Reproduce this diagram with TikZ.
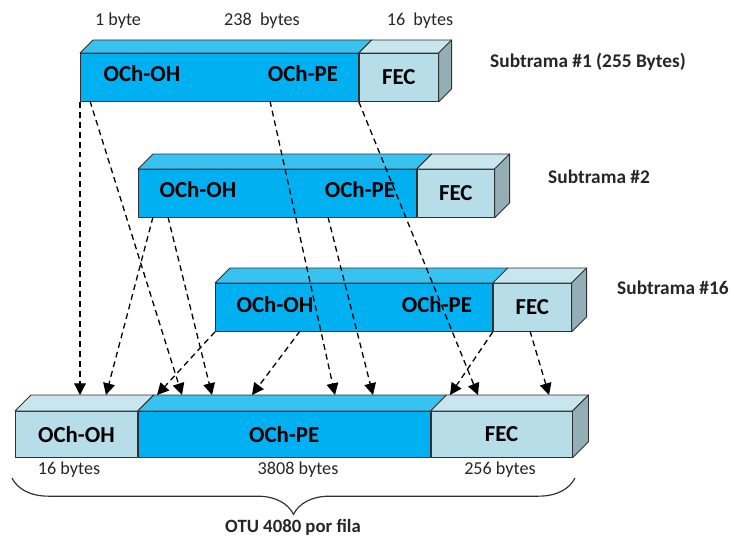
\documentclass[tikz,border=0pt]{standalone}
\usepackage{fontspec}
\setmainfont{Carlito}
\usetikzlibrary{arrows.meta,decorations.pathreplacing}

\definecolor{ochblue}{HTML}{00B0F0}
\definecolor{ochtop}{HTML}{38C2F0}
\definecolor{feclight}{HTML}{B7DEE8}
\definecolor{fectop}{HTML}{C9E6EE}
\definecolor{fecside}{HTML}{93AEB5}
\definecolor{edge}{HTML}{303030}

% top and side faces of a slab segment: node, depth, colour
\newcommand{\topface}[3]{%
  \filldraw[face,fill=#3] (#1.north west) -- ++(#2,-#2) -- ([shift={(#2,-#2)}]#1.north east) -- (#1.north east) -- cycle;}
\newcommand{\sideface}[2]{%
  \filldraw[face,fill=fecside] (#1.north east) -- ++(#2,-#2) -- ([shift={(#2,-#2)}]#1.south east) -- (#1.south east) -- cycle;}

\begin{document}
\begin{tikzpicture}[x=0.03cm,y=-0.03cm,
  face/.style={draw=edge,line width=0.7pt,line join=round},
  seg/.style={face,anchor=north west,inner sep=0pt,minimum height=48*0.03cm,
    font=\fontsize{19.5}{22}\selectfont\bfseries},
  boxlabel/.style={font=\fontsize{19.5}{22}\selectfont\bfseries,inner sep=0pt},
  bytes/.style={font=\fontsize{15.5}{18}\selectfont,text=black!85,inner sep=0pt},
  frame/.style={font=\fontsize{16.5}{19}\selectfont\bfseries,text=black!85,anchor=west,inner sep=0pt},
  flow/.style={line width=1.1pt,dash pattern=on 5pt off 3.5pt,-{Triangle[length=10pt,width=10pt]}}]
\useasboundingbox (0,0) rectangle (734,537);

% subtrama 1
\node[seg,fill=ochblue,minimum width=278*0.03cm] (b1p) at (80,53) {};
\node[seg,fill=feclight,minimum width=79*0.03cm] (b1f) at (b1p.north east) {FEC};
\topface{b1p}{13}{ochtop}
\topface{b1f}{13}{fectop}
\sideface{b1f}{13}
\node[boxlabel] (b1oh) at (142,74) {OCh-OH};
\node[boxlabel] (b1pe) at (303,74) {OCh-PE};
\node[bytes] (n1) at (118,21) {1 byte};
\node[bytes] (n238) at (262,21) {238 \ bytes};
\node[bytes] (n16) at (420,21) {16 \ bytes};
\node[frame] (st1) at (490,62) {Subtrama \#1 (255 Bytes)};

% subtrama 2
\node[seg,fill=ochblue,minimum width=278*0.03cm] (b2p) at (138,169) {};
\node[seg,fill=feclight,minimum width=77*0.03cm] (b2f) at (b2p.north east) {FEC};
\topface{b2p}{15}{ochtop}
\topface{b2f}{15}{fectop}
\sideface{b2f}{15}
\node[boxlabel] (b2oh) at (198,190) {OCh-OH};
\node[boxlabel] (b2pe) at (360,190) {OCh-PE};
\node[frame] (st2) at (548,177) {Subtrama \#2};

% subtrama 16
\node[seg,fill=ochblue,minimum width=277*0.03cm] (b3p) at (215,283) {};
\node[seg,fill=feclight,minimum width=78*0.03cm] (b3f) at (b3p.north east) {FEC};
\topface{b3p}{15}{ochtop}
\topface{b3f}{15}{fectop}
\sideface{b3f}{15}
\node[boxlabel] (b3oh) at (275,305) {OCh-OH};
\node[boxlabel] (b3pe) at (437,305) {OCh-PE};
\node[frame] (st16) at (617,288) {Subtrama \#16};

% OTU row
\node[seg,fill=feclight,minimum width=122*0.03cm,minimum height=46*0.03cm] (oh) at (15,411) {OCh-OH};
\node[seg,fill=ochblue,minimum width=292*0.03cm,minimum height=46*0.03cm] (pe) at (oh.north east) {OCh-PE};
\node[seg,fill=feclight,minimum width=141*0.03cm,minimum height=46*0.03cm] (fec) at (pe.north east) {FEC};
\topface{oh}{16}{fectop}
\topface{pe}{16}{ochtop}
\topface{fec}{16}{fectop}
\sideface{fec}{16}
\node[bytes] (m16) at (69,470) {16 bytes};
\node[bytes] (m3808) at (298,470) {3808 bytes};
\node[bytes] (m256) at (500,470) {256 bytes};

% interleaving
\coordinate (s1) at (b1p.south west);
\coordinate (s2) at (90,101);
\coordinate (s3) at (270,101);
\coordinate (s4) at (b1p.south east);
\coordinate (s5) at (153,217);
\coordinate (s6) at (168,217);
\coordinate (s7) at (328,217);
\coordinate (s8) at (b3p.south west);
\coordinate (s9) at (300,331);
\coordinate (s10) at (b3p.south east);
\coordinate (s11) at (530,331);
\coordinate (e1) at (80,395);
\coordinate (e2) at (182,395);
\coordinate (e3) at (335,395);
\coordinate (e4) at (478,395);
\coordinate (e5) at (106,395);
\coordinate (e6) at (212,395);
\coordinate (e7) at (373,395);
\coordinate (e8) at (157,395);
\coordinate (e9) at (252,395);
\coordinate (e10) at (450,395);
\coordinate (e11) at (549,395);
\foreach \i in {1,...,11}
  \draw[flow] (s\i) -- (e\i);

% brace
\coordinate (brl) at (12,478);
\coordinate (brr) at (575,478);
\draw[edge,line width=1pt,decorate,decoration={brace,mirror,amplitude=31pt}] (brl) -- (brr);
\node[font=\fontsize{16}{19}\selectfont\bfseries,text=black!85,inner sep=0pt] (otu) at (293,527) {OTU 4080 por fila};
\end{tikzpicture}
\end{document}
